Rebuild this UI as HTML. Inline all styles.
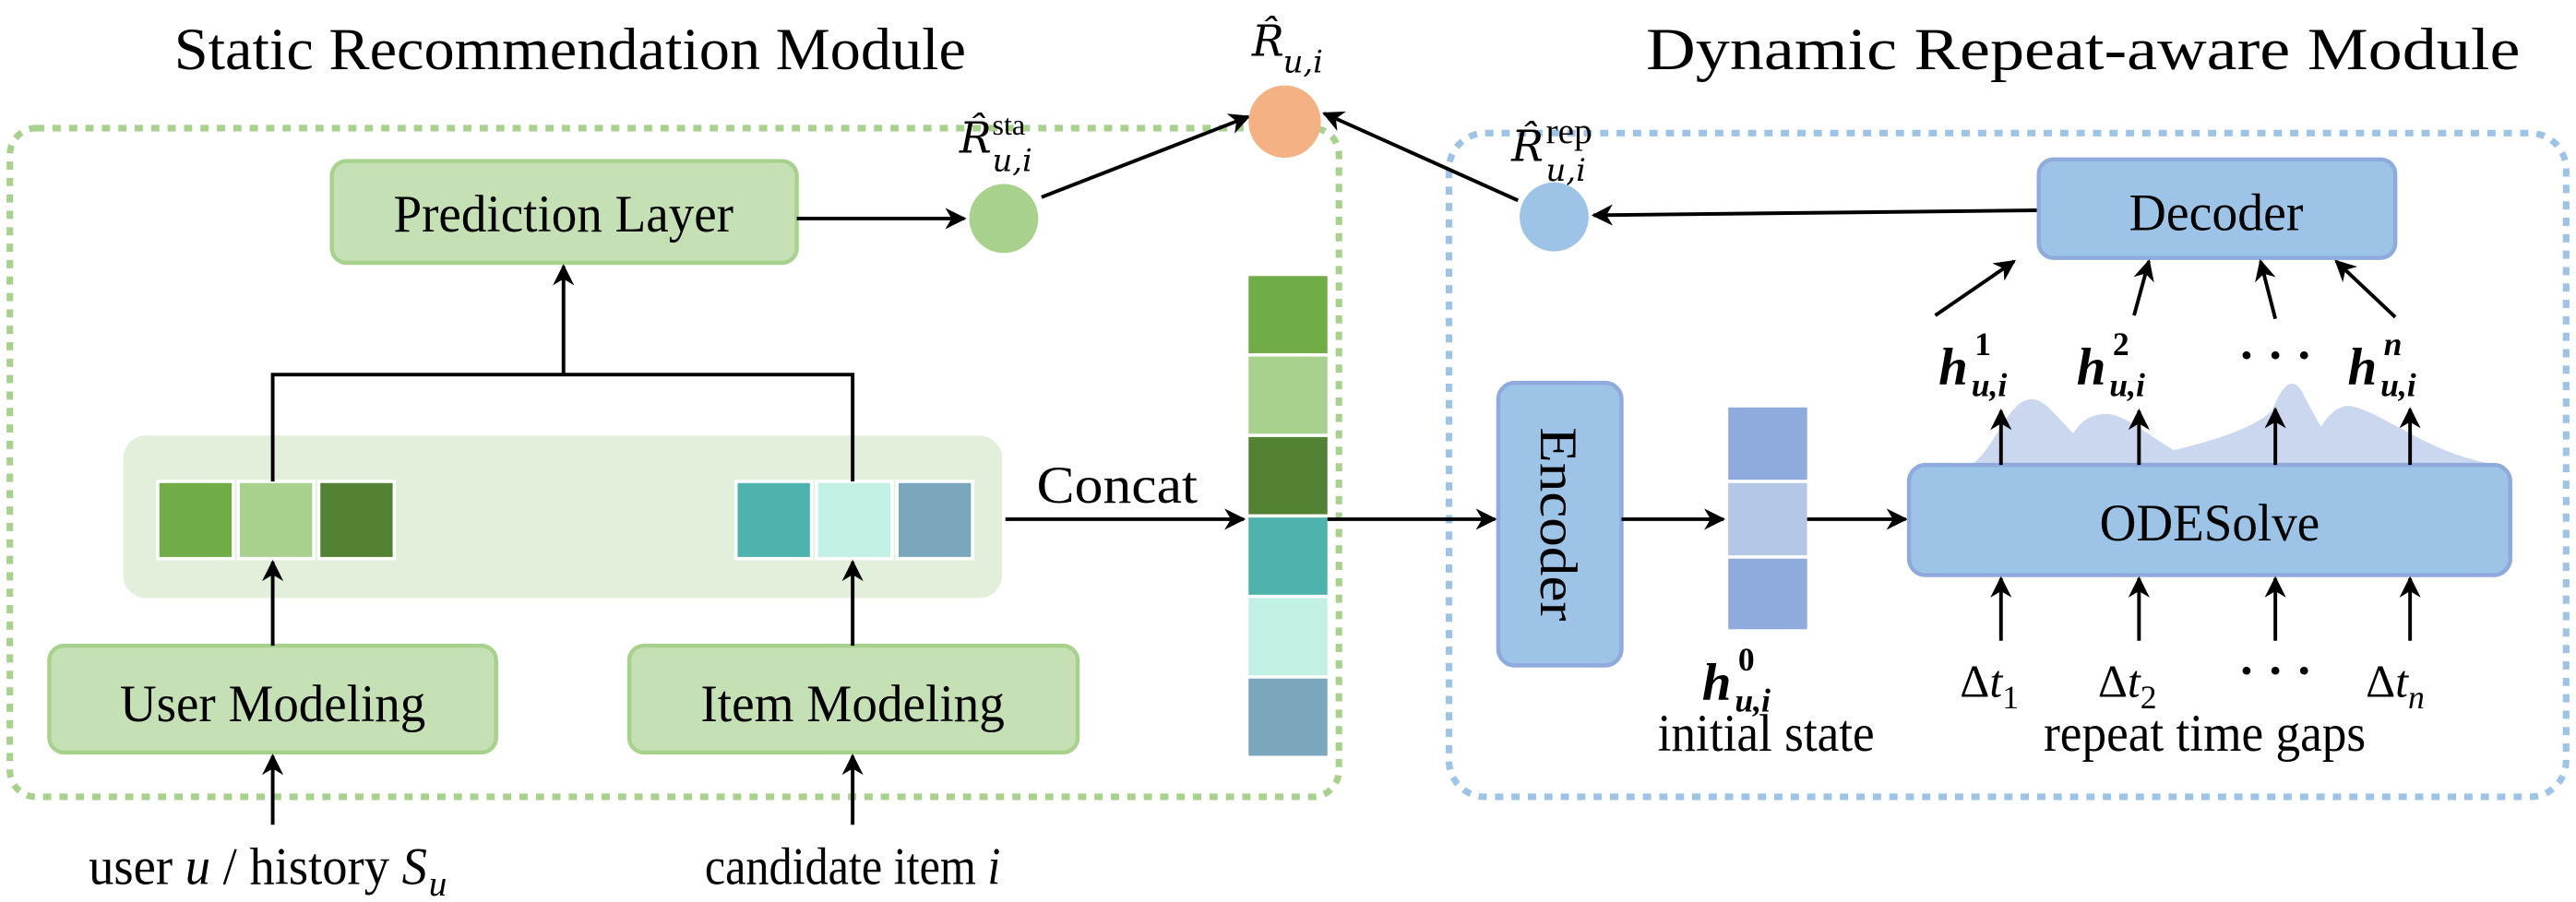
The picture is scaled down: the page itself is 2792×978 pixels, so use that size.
<!DOCTYPE html>
<html><head><meta charset="utf-8"><style>
html,body{margin:0;padding:0;background:#fff;}
svg{display:block;}
text{font-family:"Liberation Serif",serif;fill:#000;}
.m{font-family:"DejaVu Serif","Liberation Serif",serif;font-style:italic;}
</style></head><body>
<svg width="2792" height="978" viewBox="0 0 1568 549" preserveAspectRatio="none" xmlns="http://www.w3.org/2000/svg">
<defs>
<marker id="a" viewBox="0 0 20 20" refX="18" refY="10" markerWidth="13" markerHeight="13" markerUnits="userSpaceOnUse" orient="auto">
<path d="M0,0 L20,10 L0,20 L6,10 Z" fill="#000"/></marker>
</defs>
<text x="347" y="42" font-size="36" text-anchor="middle" textLength="482" lengthAdjust="spacingAndGlyphs">Static Recommendation Module</text>
<text x="1268" y="42" font-size="36" text-anchor="middle" textLength="532" lengthAdjust="spacingAndGlyphs">Dynamic Repeat-aware Module</text>
<rect x="6" y="78" width="809" height="407" rx="16" fill="none" stroke="#a9d18e" stroke-width="4" stroke-dasharray="5 5"/>
<rect x="882" y="81" width="680" height="404" rx="22" fill="none" stroke="#9dc3e6" stroke-width="4" stroke-dasharray="5 5"/>
<rect x="202" y="98" width="283" height="62" rx="9" fill="#c5e0b4" stroke="#a9d18e" stroke-width="2.5"/>
<text x="343" y="141" font-size="32" text-anchor="middle" textLength="207" lengthAdjust="spacingAndGlyphs">Prediction Layer</text>
<rect x="75" y="265" width="535" height="99" rx="14" fill="#e2efda"/>
<rect x="96" y="293" width="46" height="47" fill="#70ad47" stroke="#fff" stroke-width="2"/>
<rect x="145" y="293" width="46" height="47" fill="#a9d18e" stroke="#fff" stroke-width="2"/>
<rect x="194" y="293" width="46" height="47" fill="#548235" stroke="#fff" stroke-width="2"/>
<rect x="448" y="293" width="46" height="47" fill="#4eb3ac" stroke="#fff" stroke-width="2"/>
<rect x="497" y="293" width="46" height="47" fill="#c2f0e4" stroke="#fff" stroke-width="2"/>
<rect x="546" y="293" width="46" height="47" fill="#7ba7bc" stroke="#fff" stroke-width="2"/>
<polyline points="166,293 166,228 519,228 519,293" fill="none" stroke="#000" stroke-width="2.2"/>
<line x1="343" y1="228" x2="343" y2="162" stroke="#000" stroke-width="2.2" marker-end="url(#a)"/>
<rect x="30" y="393" width="272" height="65" rx="9" fill="#c5e0b4" stroke="#a9d18e" stroke-width="2.5"/>
<text x="166" y="439" font-size="32" text-anchor="middle" textLength="186" lengthAdjust="spacingAndGlyphs">User Modeling</text>
<rect x="383" y="393" width="273" height="65" rx="9" fill="#c5e0b4" stroke="#a9d18e" stroke-width="2.5"/>
<text x="519" y="439" font-size="32" text-anchor="middle" textLength="185" lengthAdjust="spacingAndGlyphs">Item Modeling</text>
<line x1="166" y1="393" x2="166" y2="342" stroke="#000" stroke-width="2.2" marker-end="url(#a)"/>
<line x1="519" y1="393" x2="519" y2="342" stroke="#000" stroke-width="2.2" marker-end="url(#a)"/>
<line x1="166" y1="502" x2="166" y2="460" stroke="#000" stroke-width="2.2" marker-end="url(#a)"/>
<line x1="519" y1="502" x2="519" y2="460" stroke="#000" stroke-width="2.2" marker-end="url(#a)"/>
<text x="54" y="538" font-size="32" textLength="206" lengthAdjust="spacingAndGlyphs">user <tspan font-style="italic">u</tspan> / history <tspan font-style="italic">S</tspan></text>
<text x="261" y="545" font-size="22" font-style="italic">u</text>
<text x="519" y="538" font-size="32" text-anchor="middle" textLength="180" lengthAdjust="spacingAndGlyphs">candidate item <tspan font-style="italic">i</tspan></text>
<line x1="485" y1="133" x2="587" y2="133" stroke="#000" stroke-width="2.2" marker-end="url(#a)"/>
<circle cx="611" cy="133" r="21" fill="#a9d18e"/>
<text x="584" y="93" class="m" font-size="26">R̂</text><text x="604" y="82" font-size="18" font-family="DejaVu Sans">sta</text><text x="604" y="104" class="m" font-size="19">u,i</text>
<line x1="634" y1="120" x2="760" y2="71" stroke="#000" stroke-width="2.2" marker-end="url(#a)"/>
<circle cx="782" cy="74" r="22" fill="#f4b183"/>
<text x="762" y="34" class="m" font-size="26">R̂</text><text x="781" y="44" class="m" font-size="19">u,i</text>
<text x="680" y="306" font-size="32" text-anchor="middle" textLength="98" lengthAdjust="spacingAndGlyphs">Concat</text>
<line x1="612" y1="316" x2="757" y2="316" stroke="#000" stroke-width="2.2" marker-end="url(#a)"/>
<rect x="760" y="168" width="48" height="47" fill="#70ad47"/>
<rect x="760" y="217" width="48" height="47" fill="#a9d18e"/>
<rect x="760" y="266" width="48" height="47" fill="#548235"/>
<rect x="760" y="315" width="48" height="47" fill="#4eb3ac"/>
<rect x="760" y="364" width="48" height="47" fill="#c2f0e4"/>
<rect x="760" y="413" width="48" height="47" fill="#7ba7bc"/>
<line x1="808" y1="316" x2="910" y2="316" stroke="#000" stroke-width="2.2" marker-end="url(#a)"/>
<circle cx="946" cy="132" r="21" fill="#9dc3e6"/>
<text x="920" y="98" class="m" font-size="26">R̂</text><text x="941" y="87" font-size="22">rep</text><text x="941" y="110" class="m" font-size="19">u,i</text>
<line x1="1241" y1="128" x2="970" y2="131" stroke="#000" stroke-width="2.2" marker-end="url(#a)"/>
<line x1="924" y1="122" x2="806" y2="69" stroke="#000" stroke-width="2.2" marker-end="url(#a)"/>
<rect x="1241" y="97" width="217" height="60" rx="9" fill="#9dc3e6" stroke="#8faadc" stroke-width="2.5"/>
<text x="1349" y="140" font-size="32" text-anchor="middle" textLength="106" lengthAdjust="spacingAndGlyphs">Decoder</text>
<rect x="912" y="233" width="75" height="172" rx="10" fill="#9dc3e6" stroke="#8faadc" stroke-width="2.5"/>
<text x="0" y="0" font-size="32" text-anchor="middle" transform="translate(938,319) rotate(90)" textLength="118" lengthAdjust="spacingAndGlyphs">Encoder</text>
<line x1="987" y1="316" x2="1049" y2="316" stroke="#000" stroke-width="2.2" marker-end="url(#a)"/>
<rect x="1052" y="248" width="48" height="44" fill="#8faadc"/>
<rect x="1052" y="294" width="48" height="44" fill="#b4c7e7"/>
<rect x="1052" y="340" width="48" height="43" fill="#8faadc"/>
<line x1="1100" y1="316" x2="1160" y2="316" stroke="#000" stroke-width="2.2" marker-end="url(#a)"/>
<g fill="#b4c7e7" opacity="0.7">
<path d="M1200,283 C1215,272 1222,244 1236,243 C1252,242 1262,280 1300,283 Z"/>
<path d="M1254,283 C1260,262 1268,252 1282,252 C1298,252 1320,278 1345,283 Z"/>
<path d="M1280,283 C1340,272 1370,262 1383,250 C1390,232 1396,230 1401,238 C1415,265 1425,283 1440,283 Z"/>
<path d="M1402,283 C1410,262 1418,247 1430,247 C1450,250 1480,278 1522,283 Z"/>
</g>
<rect x="1162" y="283" width="366" height="67" rx="10" fill="#9dc3e6" stroke="#8faadc" stroke-width="2.5"/>
<text x="1345" y="329" font-size="32" text-anchor="middle" textLength="134" lengthAdjust="spacingAndGlyphs">ODESolve</text>
<g stroke="#000" stroke-width="2.2">
<line x1="1218" y1="283" x2="1218" y2="250" marker-end="url(#a)"/>
<line x1="1302" y1="283" x2="1302" y2="250" marker-end="url(#a)"/>
<line x1="1385" y1="283" x2="1385" y2="249" marker-end="url(#a)"/>
<line x1="1467" y1="283" x2="1467" y2="249" marker-end="url(#a)"/>
<line x1="1218" y1="390" x2="1218" y2="352" marker-end="url(#a)"/>
<line x1="1302" y1="390" x2="1302" y2="352" marker-end="url(#a)"/>
<line x1="1385" y1="390" x2="1385" y2="352" marker-end="url(#a)"/>
<line x1="1467" y1="390" x2="1467" y2="352" marker-end="url(#a)"/>
<line x1="1178" y1="192" x2="1226" y2="159" marker-end="url(#a)"/>
<line x1="1299" y1="192" x2="1308" y2="159" marker-end="url(#a)"/>
<line x1="1385" y1="194" x2="1376" y2="159" marker-end="url(#a)"/>
<line x1="1458" y1="193" x2="1422" y2="159" marker-end="url(#a)"/>
</g>
<g font-family="DejaVu Serif" font-weight="bold" font-style="italic">
<text x="1180" y="234" font-size="32">h</text><text x="1202" y="216" font-size="20" font-style="normal">1</text><text x="1200" y="241" font-size="20">u,i</text>
<text x="1264" y="234" font-size="32">h</text><text x="1286" y="216" font-size="20" font-style="normal">2</text><text x="1284" y="241" font-size="20">u,i</text>
<text x="1429" y="234" font-size="32">h</text><text x="1451" y="216" font-size="20">n</text><text x="1449" y="241" font-size="20">u,i</text>
<text x="1036" y="426" font-size="32">h</text><text x="1058" y="408" font-size="20" font-style="normal">0</text><text x="1056" y="433" font-size="20">u,i</text>
</g>
<text x="1385" y="226" font-size="30" font-weight="bold" text-anchor="middle">· · ·</text>
<text x="1385" y="418" font-size="30" font-weight="bold" text-anchor="middle">· · ·</text>
<g font-family="DejaVu Serif" font-size="28">
<text x="1193" y="424">Δ<tspan font-style="italic">t</tspan><tspan font-size="20" dy="7">1</tspan></text>
<text x="1277" y="424">Δ<tspan font-style="italic">t</tspan><tspan font-size="20" dy="7">2</tspan></text>
<text x="1440" y="424">Δ<tspan font-style="italic">t</tspan><tspan font-size="20" font-style="italic" dy="7">n</tspan></text>
</g>
<text x="1075" y="457" font-size="32" text-anchor="middle" textLength="132" lengthAdjust="spacingAndGlyphs">initial state</text>
<text x="1342" y="457" font-size="32" text-anchor="middle" textLength="196" lengthAdjust="spacingAndGlyphs">repeat time gaps</text>
</svg>
</body></html>
